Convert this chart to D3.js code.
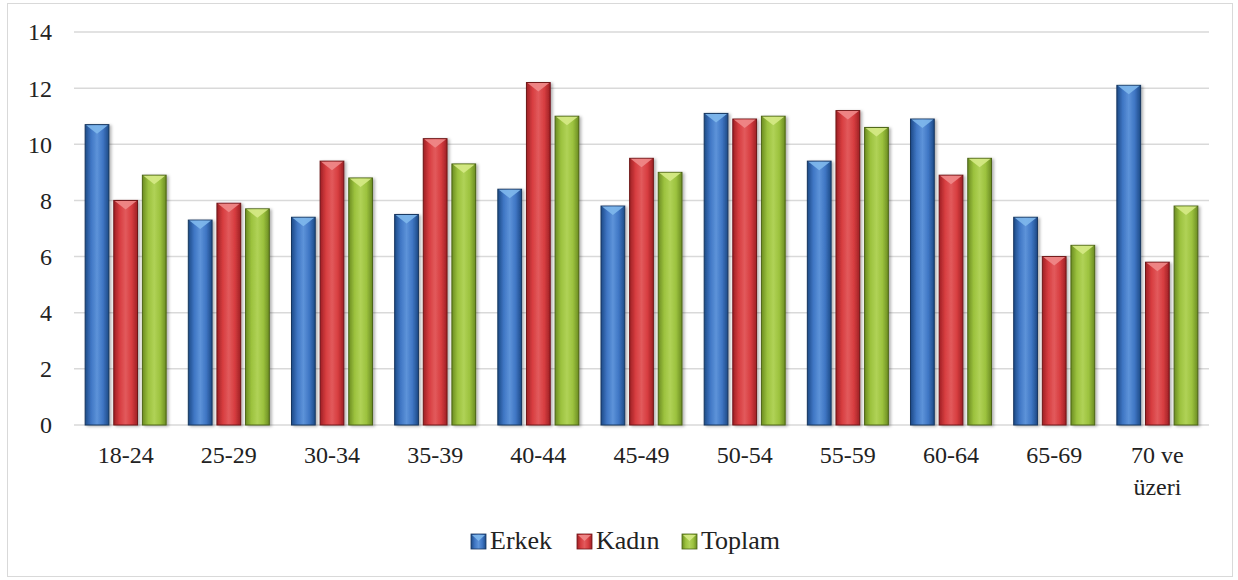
<!DOCTYPE html>
<html>
<head>
<meta charset="utf-8">
<script src="https://cdn.jsdelivr.net/npm/d3@7"></script>
<style>
  html, body { margin: 0; padding: 0; background: #fff; }
</style>
</head>
<body>
<svg id="chart" width="1238" height="580"></svg>
<script>
// Age groups and rates by sex
const categories = ["18-24", "25-29", "30-34", "35-39", "40-44", "45-49", "50-54", "55-59", "60-64", "65-69", "70 ve üzeri"];
const seriesNames = ["Erkek", "Kadın", "Toplam"];
const erkek  = [10.7, 7.3, 7.4, 7.5, 8.4, 7.8, 11.1, 9.4, 10.9, 7.4, 12.1];
const kadin  = [8.0, 7.9, 9.4, 10.2, 12.2, 9.5, 10.9, 11.2, 8.9, 6.0, 5.8];
const toplam = [8.9, 7.7, 8.8, 9.3, 11.0, 9.0, 11.0, 10.6, 9.5, 6.4, 7.8];
const yTicks = [0, 2, 4, 6, 8, 10, 12, 14];

const seriesValues = [erkek, kadin, toplam];
const FONT = '"Liberation Serif"';
const palette = [
  { edge: "#1d4a86", mid: "#3f76c4", light: "#5d93d9", top: "#7fb8ec", stroke: "#17365f" },
  { edge: "#9e2024", mid: "#d73d40", light: "#e25a5c", top: "#f08a8a", stroke: "#6e1518" },
  { edge: "#6b8c22", mid: "#9cc23e", light: "#b0d257", top: "#d6ea86", stroke: "#4c6416" }
];

const svg = d3.select("#chart");
const m = { left: 74, right: 1209, top: 32, bottom: 425 };

// outer frame
svg.append("rect")
  .attr("x", 7.5).attr("y", 3.5).attr("width", 1225).attr("height", 573)
  .attr("fill", "#fff").attr("stroke", "#d9d9d9").attr("stroke-width", 1);

const defs = svg.append("defs");
palette.forEach((p, i) => {
  const g = defs.append("linearGradient").attr("id", "grad" + i)
    .attr("x1", "0%").attr("x2", "100%").attr("y1", "0%").attr("y2", "0%");
  g.append("stop").attr("offset", "0%").attr("stop-color", p.edge);
  g.append("stop").attr("offset", "25%").attr("stop-color", p.mid);
  g.append("stop").attr("offset", "50%").attr("stop-color", p.light);
  g.append("stop").attr("offset", "75%").attr("stop-color", p.mid);
  g.append("stop").attr("offset", "100%").attr("stop-color", p.edge);
});
const shadow = defs.append("filter").attr("id", "shadow")
  .attr("x", "-30%").attr("y", "-10%").attr("width", "160%").attr("height", "120%");
shadow.append("feDropShadow").attr("dx", 2).attr("dy", 1).attr("stdDeviation", 1.5)
  .attr("flood-color", "#000").attr("flood-opacity", 0.3);

const y = d3.scaleLinear().domain([0, 14]).range([m.bottom, m.top]);
const x0 = d3.scaleBand().domain(categories).range([m.left, m.right]).paddingInner(0.215).paddingOuter(0.108);
const x1 = d3.scaleBand().domain(seriesNames).range([0, x0.bandwidth()]).paddingInner(0.17);

// gridlines
svg.append("g").selectAll("line").data(yTicks).join("line")
  .attr("x1", m.left).attr("x2", m.right)
  .attr("y1", d => y(d)).attr("y2", d => y(d))
  .attr("stroke", "#d9d9d9").attr("stroke-width", 1.5);

// y axis labels
const yAxis = d3.axisLeft(y).tickValues(yTicks).tickSize(0).tickPadding(0).tickFormat(d3.format("d"));
const gy = svg.append("g").attr("transform", `translate(52,0)`).call(yAxis);
gy.select(".domain").remove();
gy.selectAll("text")
  .style("font-family", FONT).style("font-size", "24px")
  .attr("text-anchor", "end").attr("fill", "#222").attr("dy", "0.33em");

// bars
const groups = svg.append("g").selectAll("g").data(categories).join("g")
  .attr("transform", d => `translate(${x0(d)},0)`);

groups.each(function (cat, ci) {
  const g = d3.select(this);
  seriesNames.forEach((s, si) => {
    const v = seriesValues[si][ci];
    const bx = x1(s), bw = x1.bandwidth();
    const top = y(v), bottom = y(0);
    g.append("rect")
      .attr("x", bx).attr("y", top).attr("width", bw).attr("height", bottom - top)
      .attr("fill", `url(#grad${si})`).attr("stroke", palette[si].stroke).attr("stroke-width", 1)
      .attr("filter", "url(#shadow)");
    // top bevel
    const bev = Math.min(9, (bottom - top));
    g.append("path")
      .attr("d", `M${bx + 1},${top + 0.5} L${bx + bw - 1},${top + 0.5} L${bx + bw / 2},${top + bev} Z`)
      .attr("fill", palette[si].top).attr("opacity", 0.9);
  });
});

// x axis labels
const xAxis = d3.axisBottom(x0).tickSize(0).tickPadding(0);
const gx = svg.append("g").attr("transform", `translate(0,${m.bottom})`).call(xAxis);
gx.select(".domain").remove();
gx.selectAll("text")
  .style("font-family", FONT).style("font-size", "24px")
  .attr("fill", "#222").attr("y", 38).attr("dy", 0)
  .each(function (d) {
    const t = d3.select(this);
    const words = d.split(" ");
    if (words.length > 2) {
      t.text(null);
      t.append("tspan").attr("x", 0).attr("dy", 0).text(words.slice(0, 2).join(" "));
      t.append("tspan").attr("x", 0).attr("dy", 32).text(words.slice(2).join(" "));
    }
  });

// legend
const legendX = [471, 577, 682];
const legend = svg.append("g").selectAll("g").data(seriesNames).join("g")
  .attr("transform", (d, i) => `translate(${legendX[i]},534)`);
legend.append("rect").attr("width", 15).attr("height", 15)
  .attr("fill", (d, i) => `url(#grad${i})`).attr("stroke", (d, i) => palette[i].stroke).attr("stroke-width", 0.8);
legend.append("path").attr("d", "M1,1 L14,1 L7.5,7 Z").attr("fill", (d, i) => palette[i].top).attr("opacity", 0.9);
legend.append("text").attr("x", 19).attr("y", 14.5)
  .style("font-family", FONT).style("font-size", "26px")
  .attr("fill", "#222").text(d => d);
</script>
</body>
</html>
